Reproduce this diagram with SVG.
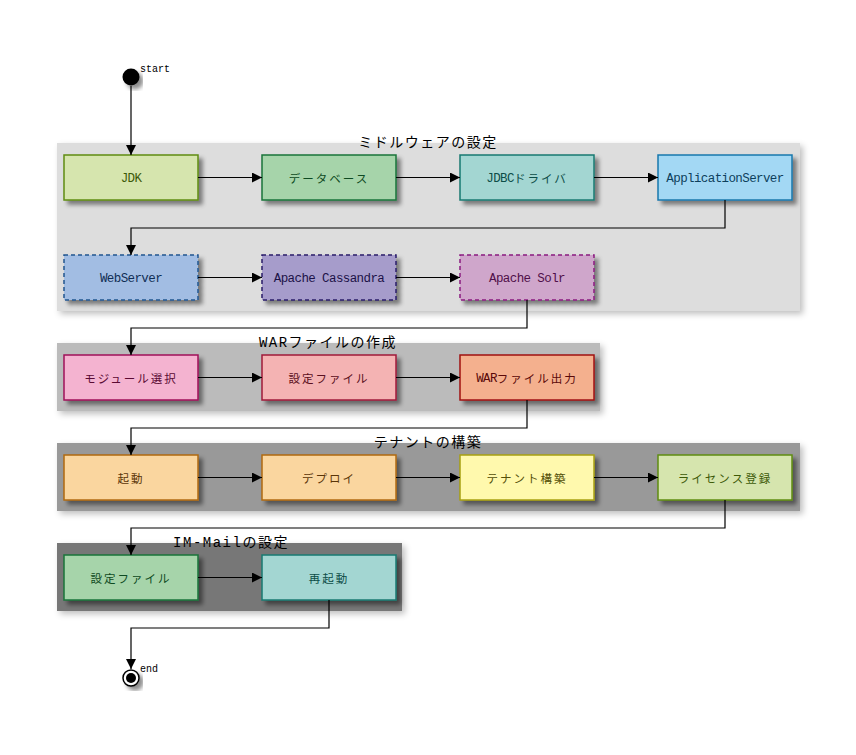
<svg xmlns="http://www.w3.org/2000/svg" width="856" height="755" viewBox="0 0 856 755">
<defs>
<filter id="sh" x="-10%" y="-10%" width="130%" height="140%">
<feDropShadow dx="4" dy="4" stdDeviation="2" flood-color="#000" flood-opacity="0.45"/>
</filter>
<filter id="lsh" x="-5%" y="-15%" width="115%" height="140%">
<feGaussianBlur in="SourceAlpha" stdDeviation="3"/>
<feOffset dx="3" dy="3" result="b"/>
<feFlood flood-color="#000" flood-opacity="0.25"/>
<feComposite in2="b" operator="in"/>
<feMerge><feMergeNode/><feMergeNode in="SourceGraphic"/></feMerge>
</filter>
<marker id="arr" viewBox="0 0 10 10" refX="10" refY="5" markerWidth="10" markerHeight="10" markerUnits="userSpaceOnUse" orient="auto">
<path d="M0,0 L10,5 L0,10 z" fill="#000"/>
</marker>
</defs>
<style>
.lane{filter:url(#lsh)}
.lt{font-family:"Liberation Mono","Noto Sans CJK JP",monospace;font-size:14px;fill:#000;text-anchor:middle;letter-spacing:1.5px}
.box{stroke-width:1.5;filter:url(#sh)}
.dash{stroke-dasharray:4,3}
.lbl{font-family:"Liberation Mono","Noto Sans CJK JP",monospace;font-size:12.5px;text-anchor:middle;dominant-baseline:central;letter-spacing:-0.6px}
.j{font-size:11.5px;letter-spacing:2px}
.con{fill:none;stroke:#000;stroke-width:1.2}
.sm{font-family:"Liberation Mono",monospace;font-size:10px;fill:#000}
</style>

<g id="lane-middleware">
<rect class="lane" x="57" y="143" width="743" height="168" fill="#dddddd"/>
<text class="lt" x="428" y="147">ミドルウェアの設定</text>
</g>
<g id="lane-war">
<rect class="lane" x="57" y="343" width="543" height="68" fill="#bbbbbb"/>
<text class="lt" x="328" y="347">WARファイルの作成</text>
</g>
<g id="lane-tenant">
<rect class="lane" x="57" y="443" width="743" height="68" fill="#999999"/>
<text class="lt" x="428" y="447">テナントの構築</text>
</g>
<g id="lane-immail">
<rect class="lane" x="57" y="543" width="345" height="68" fill="#777777"/>
<text class="lt" x="231" y="547">IM-Mailの設定</text>
</g>

<g id="start">
<circle cx="131" cy="77" r="8.5" fill="#000" filter="url(#sh)"/>
<text class="sm" x="140" y="72">start</text>
</g>

<g id="n-jdk">
<rect class="box" x="64" y="155" width="134" height="45" fill="#d6e5ae" stroke="#5f8c10"/>
<text class="lbl" x="131" y="179" fill="#3d5a08">JDK</text>
</g>
<g id="n-db">
<rect class="box" x="262" y="155" width="134" height="45" fill="#a6d4aa" stroke="#17743a"/>
<text class="lbl j" x="329" y="179" fill="#0e4a22">データベース</text>
</g>
<g id="n-jdbc">
<rect class="box" x="460" y="155" width="134" height="45" fill="#a3d6d2" stroke="#177a72"/>
<text class="lbl" x="527" y="179" fill="#0d4d48">JDBC<tspan class="j">ドライバ</tspan></text>
</g>
<g id="n-app">
<rect class="box" x="658" y="155" width="134" height="45" fill="#a3d8f4" stroke="#1778ad"/>
<text class="lbl" x="725" y="179" fill="#0d3f5c">ApplicationServer</text>
</g>
<g id="n-web">
<rect class="box dash" x="64" y="255" width="134" height="45" fill="#a2bde3" stroke="#1f5590"/>
<text class="lbl" x="131" y="279" fill="#102e55">WebServer</text>
</g>
<g id="n-cass">
<rect class="box dash" x="262" y="255" width="134" height="45" fill="#a69ccb" stroke="#2a1c6a"/>
<text class="lbl" x="329" y="279" fill="#1c1248">Apache Cassandra</text>
</g>
<g id="n-solr">
<rect class="box dash" x="460" y="255" width="134" height="45" fill="#cfa6cb" stroke="#8a1a80"/>
<text class="lbl" x="527" y="279" fill="#4f0f49">Apache Solr</text>
</g>
<g id="n-module">
<rect class="box" x="64" y="355" width="134" height="45" fill="#f4b3d0" stroke="#a0105a"/>
<text class="lbl j" x="131" y="379" fill="#5a0a33">モジュール選択</text>
</g>
<g id="n-conf1">
<rect class="box" x="262" y="355" width="134" height="45" fill="#f4b3b3" stroke="#a01a3a"/>
<text class="lbl j" x="329" y="379" fill="#5a0f20">設定ファイル</text>
</g>
<g id="n-war">
<rect class="box" x="460" y="355" width="134" height="45" fill="#f4b08e" stroke="#a01010"/>
<text class="lbl" x="527" y="379" fill="#5a0808">WAR<tspan class="j">ファイル出力</tspan></text>
</g>
<g id="n-boot">
<rect class="box" x="64" y="455" width="134" height="45" fill="#fad69f" stroke="#b06a10"/>
<text class="lbl j" x="131" y="479" fill="#5a3508">起動</text>
</g>
<g id="n-deploy">
<rect class="box" x="262" y="455" width="134" height="45" fill="#fad69f" stroke="#b06a10"/>
<text class="lbl j" x="329" y="479" fill="#5a3508">デプロイ</text>
</g>
<g id="n-tenant">
<rect class="box" x="460" y="455" width="134" height="45" fill="#fff9ad" stroke="#a8a010"/>
<text class="lbl j" x="527" y="479" fill="#555008">テナント構築</text>
</g>
<g id="n-license">
<rect class="box" x="658" y="455" width="134" height="45" fill="#d6e5ae" stroke="#5f8c10"/>
<text class="lbl j" x="725" y="479" fill="#3d5a08">ライセンス登録</text>
</g>
<g id="n-conf2">
<rect class="box" x="64" y="555" width="134" height="45" fill="#a6d4aa" stroke="#17743a"/>
<text class="lbl j" x="131" y="579" fill="#0e4a22">設定ファイル</text>
</g>
<g id="n-restart">
<rect class="box" x="262" y="555" width="134" height="45" fill="#a3d6d2" stroke="#177a72"/>
<text class="lbl j" x="329" y="579" fill="#0d4d48">再起動</text>
</g>

<g id="end">
<circle cx="131" cy="678" r="8" fill="#fff" stroke="#000" stroke-width="1.5" filter="url(#sh)"/>
<circle cx="131" cy="678" r="5" fill="#000"/>
<text class="sm" x="140" y="672">end</text>
</g>

<g id="connectors">
<path class="con" d="M131,86 L131,155" marker-end="url(#arr)"/>
<path class="con" d="M198,177.5 L262,177.5" marker-end="url(#arr)"/>
<path class="con" d="M396,177.5 L460,177.5" marker-end="url(#arr)"/>
<path class="con" d="M594,177.5 L658,177.5" marker-end="url(#arr)"/>
<path class="con" d="M725,200 L725,228 L131,228 L131,255" marker-end="url(#arr)"/>
<path class="con" d="M198,277.5 L262,277.5" marker-end="url(#arr)"/>
<path class="con" d="M396,277.5 L460,277.5" marker-end="url(#arr)"/>
<path class="con" d="M527,300 L527,328 L131,328 L131,355" marker-end="url(#arr)"/>
<path class="con" d="M198,377.5 L262,377.5" marker-end="url(#arr)"/>
<path class="con" d="M396,377.5 L460,377.5" marker-end="url(#arr)"/>
<path class="con" d="M527,400 L527,428 L131,428 L131,455" marker-end="url(#arr)"/>
<path class="con" d="M198,477.5 L262,477.5" marker-end="url(#arr)"/>
<path class="con" d="M396,477.5 L460,477.5" marker-end="url(#arr)"/>
<path class="con" d="M594,477.5 L658,477.5" marker-end="url(#arr)"/>
<path class="con" d="M725,500 L725,528 L131,528 L131,555" marker-end="url(#arr)"/>
<path class="con" d="M198,577.5 L262,577.5" marker-end="url(#arr)"/>
<path class="con" d="M329,600 L329,628 L131,628 L131,669" marker-end="url(#arr)"/>
</g>
</svg>
